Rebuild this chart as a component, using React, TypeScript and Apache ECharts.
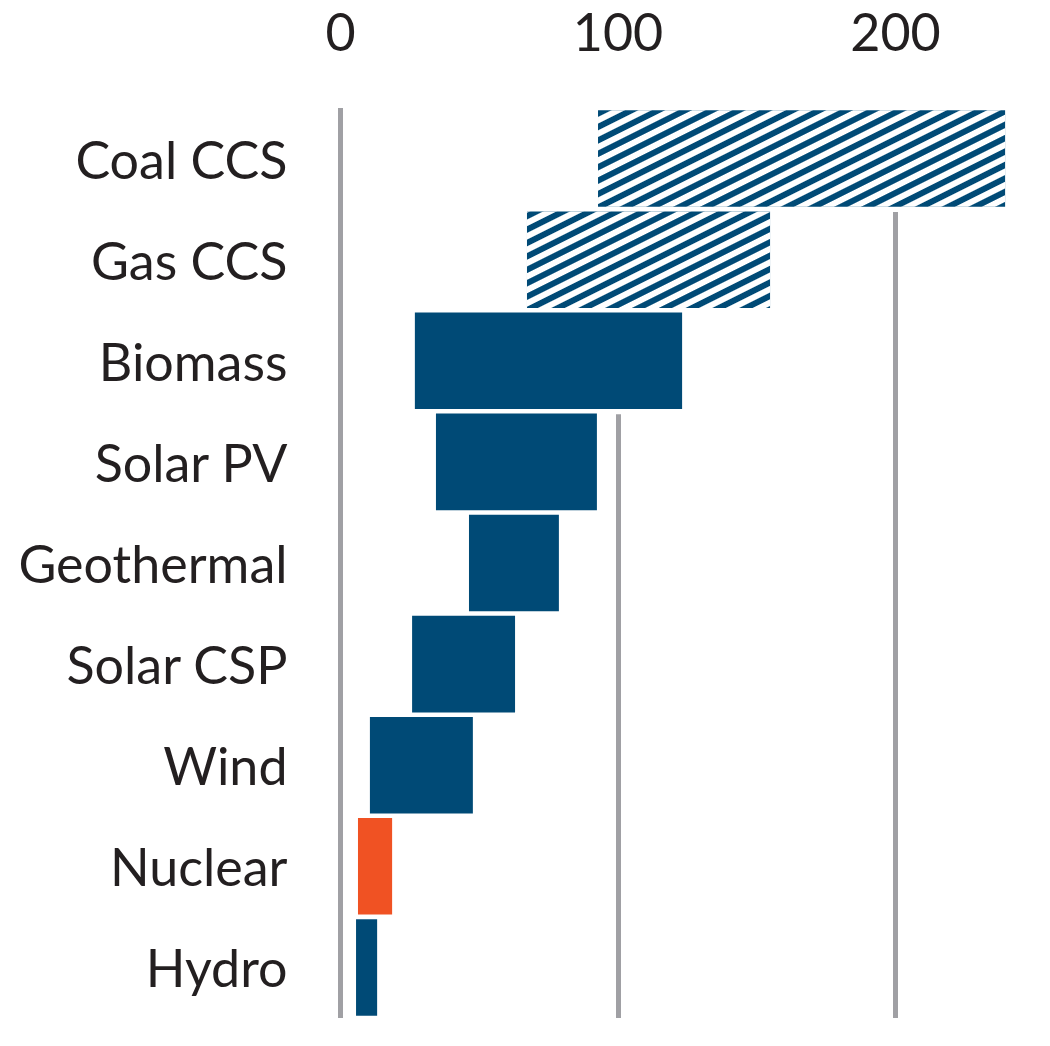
import React, { useEffect, useRef } from "react";
import * as echarts from "echarts";

const categories = ["Coal CCS", "Gas CCS", "Biomass", "Solar PV", "Geothermal", "Solar CSP", "Wind", "Nuclear", "Hydro"];
const lowValues = [92.8, 67.2, 26.8, 34.4, 46.3, 25.8, 10.6, 6.3, 5.6];
const highValues = [239.5, 154.8, 123.1, 92.4, 78.7, 62.9, 47.7, 18.6, 13.2];
const hatched = ["Coal CCS", "Gas CCS"];
const highlighted = ["Nuclear"];
const xTicks = [0, 100, 200];

const BLUE = "#004A76";
const ORANGE = "#F05223";
const GRID = "#A0A0A4";
const TEXT = "#231F20";
const FONT = "Lato, 'Open Sans', sans-serif";

export default function App() {
  const ref = useRef<HTMLDivElement>(null);
  useEffect(() => {
    if (!ref.current) return;
    const chart = echarts.init(ref.current, null, { renderer: "svg" });
    const rangeData = categories.map((c, i) => {
      const item: any = {
        value: +(highValues[i] - lowValues[i]).toFixed(2),
        itemStyle: {
          color: highlighted.includes(c) ? ORANGE : BLUE,
        },
      };
      if (hatched.includes(c)) {
        item.itemStyle.decal = {
          symbol: "rect",
          symbolSize: 1,
          color: "#ffffff",
          dashArrayX: [1, 0],
          dashArrayY: [5.6, 5.6],
          rotation: -0.4636,
        };
      }
      return item;
    });
    const haloData = categories.map((_, i) => [lowValues[i], highValues[i], i]);
    chart.setOption({
      animation: false,
      grid: { left: 340.5, right: 43.5, top: 108, bottom: 28, containLabel: false },
      xAxis: {
        type: "value",
        position: "top",
        min: xTicks[0],
        max: 240,
        interval: 100,
        axisLine: { show: false },
        axisTick: { show: false },
        axisLabel: {
          show: true,
          fontSize: 52,
          fontFamily: FONT,
          color: TEXT,
          margin: 51,
          showMaxLabel: false,
        },
        splitLine: {
          show: true,
          showMaxLine: false,
          lineStyle: { color: GRID, width: 5 },
        },
      },
      yAxis: {
        type: "category",
        data: categories,
        inverse: true,
        axisLine: { show: false },
        axisTick: { show: false },
        splitLine: { show: false },
        axisLabel: {
          fontSize: 52,
          fontFamily: FONT,
          color: TEXT,
          margin: 53,
          padding: [0, 0, 6, 0],
        },
      },
      series: [
        {
          type: "custom",
          silent: true,
          encode: { x: [0, 1], y: 2 },
          renderItem: (params: any, api: any) => {
            const lo = api.value(0);
            const hi = api.value(1);
            const cat = api.value(2);
            const a = api.coord([lo, cat]);
            const b = api.coord([hi, cat]);
            const h = api.size([0, 1])[1];
            return {
              type: "rect",
              shape: { x: a[0] - 2, y: a[1] - h / 2 - 3, width: b[0] - a[0] + 4, height: h + 6 },
              style: { fill: "#ffffff" },
            };
          },
          data: haloData,
        },
        {
          type: "bar",
          stack: "range",
          silent: true,
          barCategoryGap: "4.5%",
          itemStyle: { color: "transparent" },
          data: lowValues,
        },
        {
          type: "bar",
          stack: "range",
          barCategoryGap: "4.5%",
          data: rangeData,
        },
      ],
    });
    return () => chart.dispose();
  }, []);
  return (
    <div
      ref={ref}
      style={{ position: "fixed", left: 0, top: 0, width: 1050, height: 1046, background: "#ffffff" }}
    />
  );
}
